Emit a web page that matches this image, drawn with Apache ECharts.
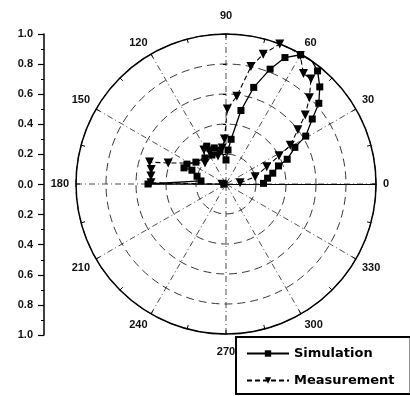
<!DOCTYPE html>
<html>
<head>
<meta charset="utf-8">
<script src="https://cdn.jsdelivr.net/npm/echarts@6/dist/echarts.min.js"></script>
<style>
  html, body { margin: 0; padding: 0; background: #fff; }
  #chart { width: 410px; height: 396px; }
</style>
</head>
<body>
<div id="chart"></div>
<script>
// polar data: [radius, angle in degrees]
const simulationR = [0.25, 0.28, 0.32, 0.37, 0.44, 0.52, 0.62, 0.72, 0.82, 0.90, 0.97, 1.0, 0.995, 0.93, 0.82, 0.67, 0.50, 0.30,
  0.227, 0.16, 0.23, 0.253, 0.283, 0.215, 0.223, 0.248, 0.292, 0.30, 0.245, 0.20, 0.168, 0.52, 0.013];
const simulationAngle = [1, 8, 13, 19, 22, 28, 31, 37, 41, 46, 51, 55, 60, 65, 69, 74, 78.5, 83.5,
  86.6, 90, 100, 108, 117, 116, 129, 144, 153, 159, 158, 165, 173, 180, 181];

const measurementR = [0.094, 0.20, 0.295, 0.40, 0.50, 0.60, 0.70, 0.80, 0.90, 0.90, 0.99, 1.0, 1.0, 0.90, 0.80, 0.59, 0.50, 0.30,
  0.241, 0.194, 0.239, 0.27, 0.198, 0.41, 0.53, 0.508, 0.503, 0.50, 0.027];
const measurementAngle = [5, 14, 23, 28, 31, 37, 41, 46, 51, 55, 60, 64, 69, 74, 78, 83, 89, 92,
  96, 106, 117, 123, 135, 160, 164, 169, 174, 179, 182];

const angleTicks = [0, 30, 60, 90, 120, 150, 180, 210, 240, 270, 300, 330];
const leftAxisLabels = ['1.0', '0.8', '0.6', '0.4', '0.2', '0.0', '0.2', '0.4', '0.6', '0.8', '1.0'];

const font = 'Liberation Sans, Arial, sans-serif';
const CENTER = [226, 184];
const RADIUS = 150;

function pairs(rs, as) {
  return rs.map((r, i) => [r, as[i]]);
}

// main polar + small "+" ticks along the 0/90/180/270 spokes (ticks on both sides)
const polars = [{ center: CENTER, radius: RADIUS }];
const angleAxes = [{
  polarIndex: 0,
  type: 'value',
  min: 0,
  max: 360,
  interval: 30,
  startAngle: 0,
  clockwise: false,
  axisLine: { lineStyle: { color: '#000', width: 1.5 } },
  axisTick: { show: true, inside: true, length: 4, lineStyle: { color: '#000' } },
  minorTick: { show: true, splitNumber: 2, length: 4, lineStyle: { color: '#000' } },
  axisLabel: {
    margin: 7,
    color: '#111',
    fontSize: 11,
    fontWeight: 'bold',
    fontFamily: font,
    formatter: (v) => {
      if (angleTicks.indexOf(v) < 0) return '';
      if (v === 90) return '{up|90}';
      if (v === 270) return '{down|270}';
      return String(v);
    },
    rich: {
      up: { padding: [0, 0, 6, 0], fontSize: 11, fontWeight: 'bold', fontFamily: font, color: '#111' },
      down: { padding: [5, 0, 0, 0], fontSize: 11, fontWeight: 'bold', fontFamily: font, color: '#111' },
    },
  },
  splitLine: { lineStyle: { color: '#222', width: 0.8, type: [6, 3, 1, 3] } },
}];
const radiusAxes = [{
  polarIndex: 0,
  type: 'value',
  min: 0,
  max: 1,
  interval: 0.2,
  angle: 90,
  axisLine: { show: true, lineStyle: { color: '#000', width: 1 } },
  axisTick: { show: false },
  axisLabel: { show: false },
  splitLine: { lineStyle: { color: '#222', width: 0.9, type: [8, 5] } },
}];
[0, 90, 180, 270].forEach((a) => {
  [false, true].forEach((inside) => {
    const idx = polars.length;
    polars.push({ center: CENTER, radius: RADIUS });
    angleAxes.push({ polarIndex: idx, type: 'value', min: 0, max: 360, show: false });
    radiusAxes.push({
      polarIndex: idx,
      type: 'value',
      min: 0,
      max: 1,
      interval: 0.2,
      angle: a,
      axisLine: { show: false },
      axisTick: { show: true, inside: inside, length: 3, lineStyle: { color: '#000', width: 1 } },
      axisLabel: { show: false },
      splitLine: { show: false },
    });
  });
});

const chart = echarts.init(document.getElementById('chart'));
chart.setOption({
  animation: false,
  backgroundColor: '#fff',
  polar: polars,
  angleAxis: angleAxes,
  radiusAxis: radiusAxes,
  // the separate 1.0 - 0.0 - 1.0 scale on the left
  grid: { left: 44, top: 34, width: 1, height: 301 },
  xAxis: { type: 'value', show: false },
  yAxis: {
    type: 'value',
    min: -1,
    max: 1,
    interval: 0.2,
    axisLine: { show: true, lineStyle: { color: '#000', width: 1.5 } },
    axisTick: { show: true, length: 6, lineStyle: { color: '#000', width: 1.2 } },
    minorTick: { show: true, splitNumber: 2, length: 3, lineStyle: { color: '#000' } },
    splitLine: { show: false },
    axisLabel: {
      margin: 11,
      color: '#111',
      fontSize: 11,
      fontWeight: 'bold',
      fontFamily: font,
      formatter: (v) => leftAxisLabels[Math.round((1 - v) / 0.2)],
    },
  },
  legend: {
    data: ['Simulation', 'Measurement'],
    orient: 'vertical',
    left: 236,
    top: 337,
    padding: [10, 16, 7, 10],
    itemWidth: 42,
    itemHeight: 8,
    itemGap: 14,
    borderColor: '#000',
    borderWidth: 2,
    backgroundColor: '#fff',
    z: 10,
    textStyle: { fontSize: 13, fontWeight: 'bold', fontFamily: 'DejaVu Sans, sans-serif', color: '#000' },
  },
  series: [
    {
      name: 'Simulation',
      type: 'line',
      coordinateSystem: 'polar',
      polarIndex: 0,
      data: pairs(simulationR, simulationAngle),
      symbol: 'rect',
      symbolSize: 7,
      itemStyle: { color: '#000' },
      lineStyle: { color: '#000', width: 1.3 },
    },
    {
      name: 'Measurement',
      type: 'line',
      coordinateSystem: 'polar',
      polarIndex: 0,
      data: pairs(measurementR, measurementAngle),
      symbol: 'triangle',
      symbolRotate: 180,
      symbolSize: 9,
      itemStyle: { color: '#000' },
      lineStyle: { color: '#000', width: 1.1, type: [5, 3] },
    },
  ],
});
</script>
</body>
</html>
